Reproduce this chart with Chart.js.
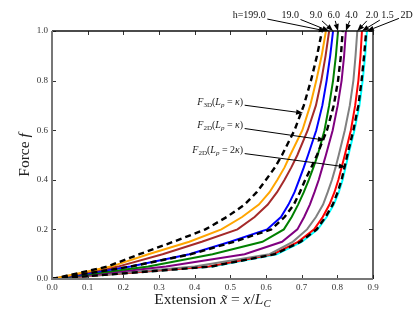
<!DOCTYPE html>
<html>
<head>
<meta charset="utf-8">
<script src="https://cdn.jsdelivr.net/npm/chart.js@4.4.0/dist/chart.umd.min.js"></script>
<style>
html,body{margin:0;padding:0;background:#fff;}
#wrap{width:415px;height:312px;position:relative;}
</style>
</head>
<body>
<div id="wrap"><canvas id="force-chart"></canvas></div>
<script>
// force levels where every curve is sampled
const forceLevels = [0, 0.05, 0.1, 0.15, 0.2, 0.25, 0.3, 0.35, 0.4, 0.45, 0.5, 0.6, 0.7, 0.8, 0.9, 1.0];

// extension, one array per curve
const ext3D    = [0, 0.155, 0.245, 0.34, 0.43, 0.49, 0.54, 0.574, 0.60, 0.625, 0.645, 0.68, 0.706, 0.726, 0.743, 0.757];
const extH199  = [0, 0.165, 0.27, 0.385, 0.475, 0.533, 0.58, 0.61, 0.632, 0.652, 0.668, 0.702, 0.724, 0.741, 0.756, 0.768];
const extH19   = [0, 0.185, 0.31, 0.42, 0.52, 0.568, 0.605, 0.631, 0.652, 0.671, 0.688, 0.717, 0.74, 0.755, 0.767, 0.777];
const extH9    = [0, 0.22, 0.385, 0.50, 0.603, 0.642, 0.663, 0.68, 0.693, 0.706, 0.718, 0.741, 0.758, 0.77, 0.78, 0.788];
const ext2Dk   = [0, 0.22, 0.39, 0.51, 0.615, 0.652, 0.678, 0.695, 0.71, 0.727, 0.743, 0.771, 0.79, 0.802, 0.81, 0.815];
const extH6    = [0, 0.27, 0.45, 0.59, 0.65, 0.672, 0.69, 0.706, 0.72, 0.733, 0.745, 0.764, 0.777, 0.788, 0.796, 0.802];
const extH4    = [0, 0.32, 0.54, 0.645, 0.688, 0.707, 0.723, 0.736, 0.748, 0.758, 0.768, 0.787, 0.801, 0.812, 0.819, 0.824];
const extH2    = [0, 0.40, 0.61, 0.675, 0.715, 0.74, 0.76, 0.773, 0.785, 0.795, 0.804, 0.821, 0.835, 0.845, 0.851, 0.856];
const extH15   = [0, 0.44, 0.62, 0.69, 0.735, 0.759, 0.778, 0.792, 0.803, 0.812, 0.821, 0.838, 0.85, 0.859, 0.865, 0.869];
const ext2D    = [0, 0.45, 0.63, 0.70, 0.745, 0.77, 0.79, 0.804, 0.815, 0.823, 0.831, 0.848, 0.862, 0.871, 0.878, 0.883];
const ext2D2k  = [0, 0.445, 0.625, 0.697, 0.742, 0.767, 0.787, 0.801, 0.812, 0.82, 0.828, 0.845, 0.859, 0.868, 0.875, 0.881];

// labels above the plot (one per coloured curve) and where they sit
const curveLabels = ['h=199.0', '19.0', '9.0', '6.0', '4.0', '2.0', '1.5', '2D'];
const labelX = [0.553, 0.668, 0.74, 0.79, 0.84, 0.897, 0.941, 0.994];
const labelF = 1.063;

// the three model annotations
const noteTextX = [0.536, 0.536, 0.536];
const noteTextF = [0.714, 0.621, 0.52];
const noteTipX  = [0.704, 0.765, 0.824];
const noteTipF  = [0.669, 0.56, 0.452];

const xTicks = [0, 0.1, 0.2, 0.3, 0.4, 0.5, 0.6, 0.7, 0.8, 0.9];
const yTicks = [0, 0.2, 0.4, 0.6, 0.8, 1.0];

const serif = '"Liberation Serif", "DejaVu Serif", serif';

function toPoints(ext){
  return ext.map((x, i) => ({x: x, y: forceLevels[i]}));
}

function solid(ext, color){
  return {data: toPoints(ext), borderColor: color, borderWidth: 2, pointRadius: 0, tension: 0, fill: false};
}
function dashed(ext){
  return {data: toPoints(ext), borderColor: '#000', borderWidth: 2.4, borderDash: [6, 4], pointRadius: 0, tension: 0, fill: false};
}

// coloured curves in label order, so the labels can point at them
const colouredCurves = [extH199, extH19, extH9, extH6, extH4, extH2, extH15, ext2D];
const curveColours = ['#ffa500', '#a52a2a', '#0000ff', '#008000', '#800080', '#808080', '#ff0000', '#00ffff'];

// rich text: parts with italic / subscript flags
function richWidth(ctx, parts, size){
  let w = 0;
  parts.forEach(p => {
    ctx.font = (p.it ? 'italic ' : '') + (p.sub ? size * 0.7 : size) + 'px ' + serif;
    w += ctx.measureText(p.t).width;
  });
  return w;
}
function drawRich(ctx, parts, x, y, size, align){
  const w = richWidth(ctx, parts, size);
  let cx = align === 'right' ? x - w : (align === 'center' ? x - w / 2 : x);
  ctx.textAlign = 'left';
  ctx.textBaseline = 'middle';
  parts.forEach(p => {
    ctx.font = (p.it ? 'italic ' : '') + (p.sub ? size * 0.7 : size) + 'px ' + serif;
    ctx.fillText(p.t, cx, p.sub ? y + size * 0.28 : y);
    cx += ctx.measureText(p.t).width;
  });
  return w;
}

function arrow(ctx, x0, y0, x1, y1){
  const ang = Math.atan2(y1 - y0, x1 - x0);
  const hl = 7, hw = 2.6;
  ctx.strokeStyle = '#000';
  ctx.fillStyle = '#000';
  ctx.lineWidth = 1;
  ctx.beginPath();
  ctx.moveTo(x0, y0);
  ctx.lineTo(x1 - hl * Math.cos(ang), y1 - hl * Math.sin(ang));
  ctx.stroke();
  ctx.beginPath();
  ctx.moveTo(x1, y1);
  ctx.lineTo(x1 - hl * Math.cos(ang) + hw * Math.sin(ang), y1 - hl * Math.sin(ang) - hw * Math.cos(ang));
  ctx.lineTo(x1 - hl * Math.cos(ang) - hw * Math.sin(ang), y1 - hl * Math.sin(ang) + hw * Math.cos(ang));
  ctx.closePath();
  ctx.fill();
}

// where the line from the box centre to the tip leaves the box
function boxExit(cx, cy, hw, hh, tx, ty){
  const dx = tx - cx, dy = ty - cy;
  let t = 1;
  if (dx !== 0) t = Math.min(t, hw / Math.abs(dx));
  if (dy !== 0) t = Math.min(t, hh / Math.abs(dy));
  return [cx + dx * t, cy + dy * t];
}

const notes = [
  [{t:'F', it:true}, {t:'3D', sub:true}, {t:'('}, {t:'L', it:true}, {t:'p', it:true, sub:true}, {t:' = '}, {t:'κ', it:true}, {t:')'}],
  [{t:'F', it:true}, {t:'2D', sub:true}, {t:'('}, {t:'L', it:true}, {t:'p', it:true, sub:true}, {t:' = '}, {t:'κ', it:true}, {t:')'}],
  [{t:'F', it:true}, {t:'2D', sub:true}, {t:'('}, {t:'L', it:true}, {t:'p', it:true, sub:true}, {t:' = 2'}, {t:'κ', it:true}, {t:')'}]
];

const annotatePlugin = {
  id: 'annotate',
  afterDatasetsDraw(chart){
    const ctx = chart.ctx, xs = chart.scales.x, ys = chart.scales.y, a = chart.chartArea;
    ctx.save();
    // ticks pointing in, on all four sides
    ctx.lineWidth = 1;
    ctx.strokeStyle = '#333';
    xTicks.forEach(v => {
      const px = Math.round(xs.getPixelForValue(v)) + 0.5;
      ctx.beginPath();
      ctx.moveTo(px, a.bottom); ctx.lineTo(px, a.bottom - 4);
      ctx.moveTo(px, a.top); ctx.lineTo(px, a.top + 4);
      ctx.stroke();
    });
    yTicks.forEach(v => {
      const py = Math.round(ys.getPixelForValue(v)) + 0.5;
      ctx.beginPath();
      ctx.moveTo(a.left, py); ctx.lineTo(a.left + 4, py);
      ctx.moveTo(a.right, py); ctx.lineTo(a.right - 4, py);
      ctx.stroke();
    });
    // spines: top / right dark, left / bottom grey
    ctx.strokeStyle = '#111';
    ctx.lineWidth = 1.3;
    ctx.beginPath();
    ctx.moveTo(a.left, a.top); ctx.lineTo(a.right, a.top); ctx.lineTo(a.right, a.bottom);
    ctx.stroke();
    ctx.strokeStyle = '#777';
    ctx.lineWidth = 2;
    ctx.beginPath();
    ctx.moveTo(a.left, a.top); ctx.lineTo(a.left, a.bottom); ctx.lineTo(a.right, a.bottom);
    ctx.stroke();

    // labels above the plot with arrows to the curve ends
    curveLabels.forEach((lab, i) => {
      const cx = xs.getPixelForValue(labelX[i]);
      const cy = ys.getPixelForValue(labelF);
      ctx.font = '10px ' + serif;
      ctx.textAlign = 'center';
      ctx.textBaseline = 'middle';
      ctx.fillStyle = '#111';
      ctx.fillText(lab, cx, cy);
      const w = ctx.measureText(lab).width;
      const ext = colouredCurves[i];
      const tx = xs.getPixelForValue(ext[ext.length - 1]);
      const ty = ys.getPixelForValue(forceLevels[forceLevels.length - 1]);
      const s = boxExit(cx, cy, w / 2 + 1.5, 5.5, tx, ty);
      arrow(ctx, s[0], s[1], tx, ty);
    });

    // model annotations
    notes.forEach((parts, i) => {
      const rx = xs.getPixelForValue(noteTextX[i]);
      const cy = ys.getPixelForValue(noteTextF[i]);
      ctx.fillStyle = '#222';
      const w = drawRich(ctx, parts, rx, cy, 10, 'right');
      const tx = xs.getPixelForValue(noteTipX[i]);
      const ty = ys.getPixelForValue(noteTipF[i]);
      const s = boxExit(rx - w / 2, cy, w / 2 + 1.5, 5.5, tx, ty);
      arrow(ctx, s[0], s[1], tx, ty);
    });

    // axis titles
    ctx.fillStyle = '#222';
    drawRich(ctx, [{t:'Extension '}, {t:'x\u0303', it:true}, {t:' = '}, {t:'x', it:true}, {t:'/'}, {t:'L', it:true}, {t:'C', it:true, sub:true}],
      (a.left + a.right) / 2, 300, 15.5, 'center');
    ctx.translate(25, (a.top + a.bottom) / 2);
    ctx.rotate(-Math.PI / 2);
    drawRich(ctx, [{t:'Force '}, {t:'f', it:true}], 0, 0, 15.5, 'center');
    ctx.restore();
  }
};

const datasets = [dashed(ext3D), dashed(ext2Dk), dashed(ext2D2k)];
colouredCurves.forEach((ext, i) => datasets.push(solid(ext, curveColours[i])));

const ctx = document.getElementById('force-chart').getContext('2d');
const myChart = new Chart(ctx, {
  type: 'line',
  data: {datasets: datasets},
  options: {
    responsive: true,
    maintainAspectRatio: false,
    animation: false,
    events: [],
    layout: {padding: {left: 12, top: 31, right: 42, bottom: 0}},
    plugins: {legend: {display: false}, tooltip: {enabled: false}},
    scales: {
      x: {
        type: 'linear', min: 0, max: 0.9,
        afterFit: s => { s.height = 33; },
        afterBuildTicks: s => { s.ticks = xTicks.map(v => ({value: v})); },
        grid: {display: false, drawTicks: false},
        border: {display: false},
        ticks: {padding: 3, color: '#333', font: {family: serif, size: 9}, maxRotation: 0,
                callback: v => Number(v).toFixed(1)}
      },
      y: {
        type: 'linear', min: 0, max: 1,
        afterFit: s => { s.width = 40; },
        afterBuildTicks: s => { s.ticks = yTicks.map(v => ({value: v})); },
        grid: {display: false, drawTicks: false},
        border: {display: false},
        ticks: {padding: 4, color: '#333', font: {family: serif, size: 9},
                callback: v => Number(v).toFixed(1)}
      }
    }
  },
  plugins: [annotatePlugin]
});
</script>
</body>
</html>
